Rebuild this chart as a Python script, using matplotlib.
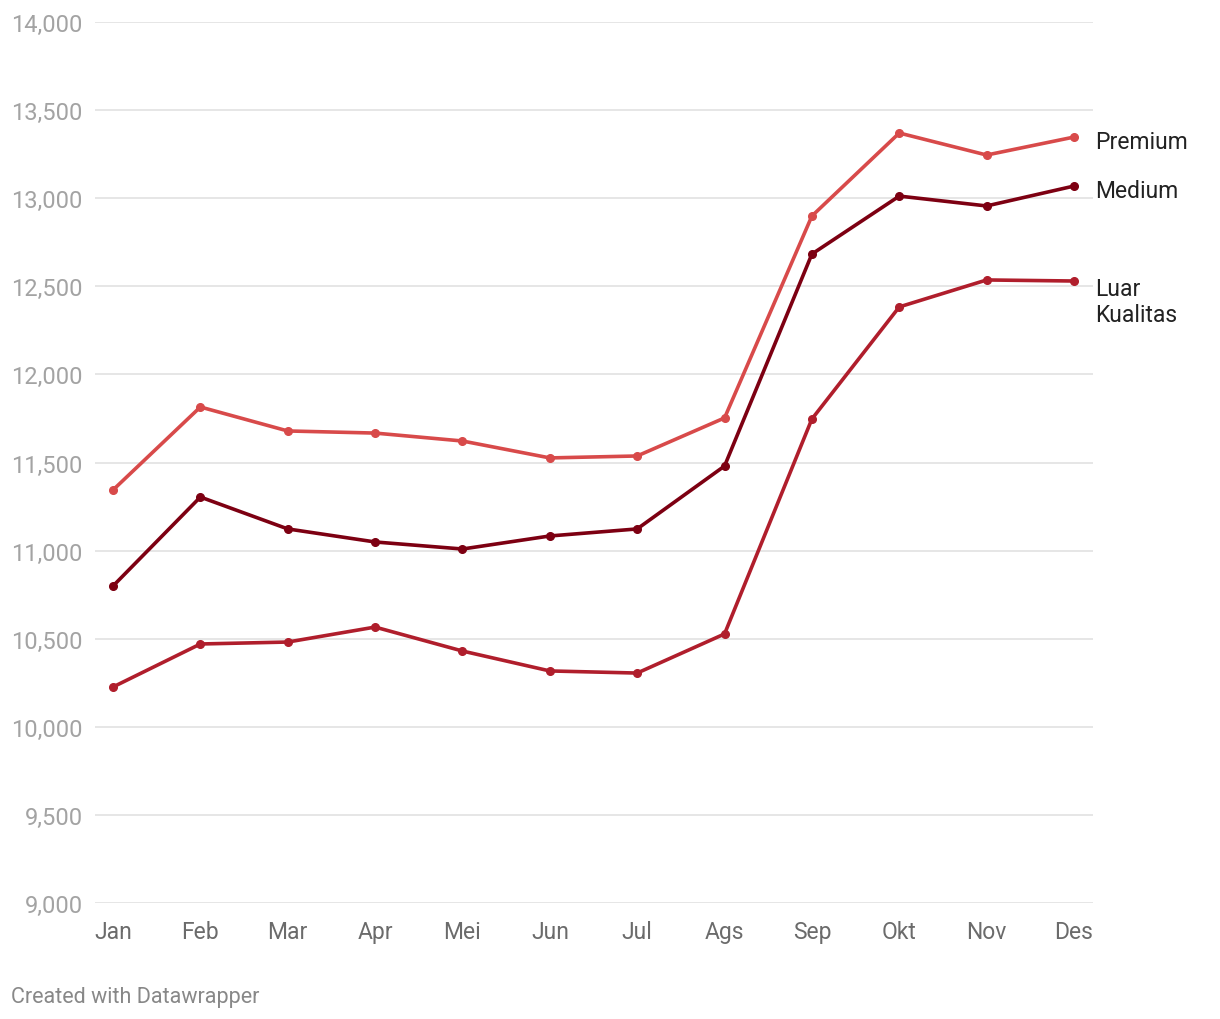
import matplotlib.pyplot as plt
from matplotlib.ticker import FuncFormatter

# ---------------------------
# DATA
# ---------------------------
months = ["Jan", "Feb", "Mar", "Apr", "Mei", "Jun", "Jul", "Ags", "Sep", "Okt", "Nov", "Des"]
premium = [11344, 11815, 11679, 11667, 11622, 11526, 11537, 11753, 12899, 13370, 13245, 13347]
medium = [10799, 11304, 11123, 11049, 11009, 11083, 11123, 11480, 12683, 13012, 12956, 13069]
luar = [10226, 10470, 10481, 10566, 10430, 10317, 10305, 10527, 11747, 12383, 12536, 12530]
yticks = [9000, 9500, 10000, 10500, 11000, 11500, 12000, 12500, 13000, 13500, 14000]

plt.rcParams['font.family'] = ['Roboto', 'DejaVu Sans']

fig = plt.figure(figsize=(12.2, 10.2), dpi=100)
ax = fig.add_axes([95 / 1220, 1 - 904 / 1020, (1093 - 95) / 1220, (904 - 23) / 1020])

x = list(range(len(months)))
series = [
    ("Premium", premium, "#d84a4a"),
    ("Medium", medium, "#7d0012"),
    ("Luar\nKualitas", luar, "#b01e2c"),
]
for name, vals, col in series:
    ax.plot(x, vals, color=col, lw=2.6, marker="o", ms=5.5, solid_capstyle="round", zorder=3)

# ---------------------------
# AXES
# ---------------------------
ax.set_xlim(-18 / 87.36, 11 + 19 / 87.36)
ax.set_ylim(9000, 14000)
ax.set_yticks(yticks)
ax.yaxis.set_major_formatter(FuncFormatter(lambda v, p: f"{int(v):,}"))
ax.set_xticks(x)
ax.set_xticklabels(months)
ax.grid(axis="y", color="#e1e1e1", lw=1.2)
ax.set_axisbelow(True)
for s in ax.spines.values():
    s.set_visible(False)
ax.tick_params(axis="y", length=0, pad=9, labelsize=17, labelcolor="#a3a3a3")
ax.tick_params(axis="x", length=0, pad=12, labelsize=16.5, labelcolor="#6b6b6b")

# ---------------------------
# LABELS
# ---------------------------
ax.annotate("Premium", xy=(11, premium[-1]), xytext=(15, -3), textcoords="offset points",
            fontsize=16.5, color="#222222", va="center", ha="left")
ax.annotate("Medium", xy=(11, medium[-1]), xytext=(15, -3), textcoords="offset points",
            fontsize=16.5, color="#222222", va="center", ha="left")
ax.annotate("Luar\nKualitas", xy=(11, luar[-1]), xytext=(15, 3), textcoords="offset points",
            fontsize=16.5, color="#222222", va="top", ha="left", linespacing=1.15)

fig.text(11 / 1220, 1 - 998 / 1020, "Created with Datawrapper", fontsize=15.5,
         color="#888888", va="center", ha="left")

plt.savefig("out.png", dpi=100)
